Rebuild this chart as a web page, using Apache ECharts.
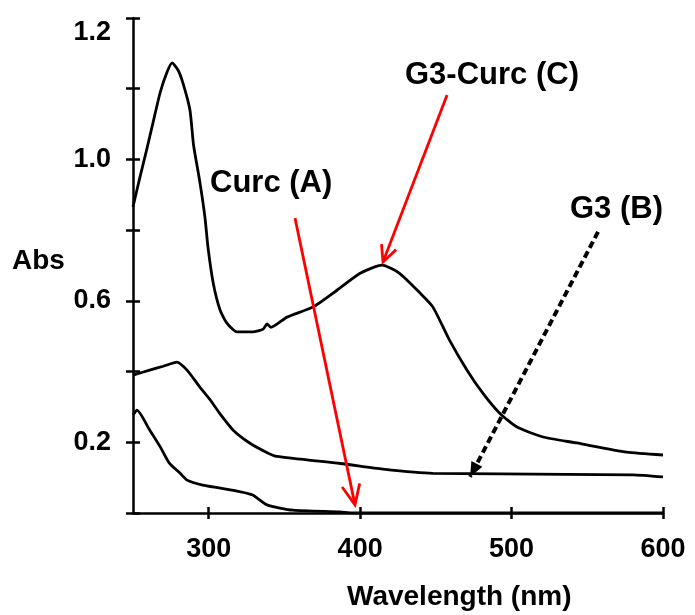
<!DOCTYPE html>
<html><head><meta charset="utf-8">
<script src="https://cdn.jsdelivr.net/npm/echarts@6/dist/echarts.min.js"></script>
<style>html,body{margin:0;padding:0;background:#fff}#c{width:695px;height:615px}</style>
</head><body><div id="c"></div>
<script>
// ---- data ----
const g3CurcWl  = [250, 254.6, 259, 263, 268, 272.5, 275.8, 279.7, 283, 287.6, 290, 294, 297.5, 299.5, 303, 307.5, 312, 318.7, 329, 336, 338.5, 341, 351.7, 369, 384.7, 400, 414.5, 426, 439.6, 448, 459, 470.6, 481, 492, 503.6, 520.8, 543, 576, 600];
const g3CurcAbs = [0.866, 0.95, 1.027, 1.10, 1.19, 1.247, 1.273, 1.253, 1.216, 1.14, 1.04, 0.94, 0.837, 0.752, 0.65, 0.574, 0.537, 0.512, 0.512, 0.52, 0.535, 0.525, 0.554, 0.583, 0.63, 0.678, 0.701, 0.678, 0.622, 0.583, 0.489, 0.404, 0.339, 0.283, 0.243, 0.215, 0.198, 0.172, 0.164];
const g3Wl  = [250, 261, 270, 279, 285.7, 294, 301, 307, 316, 327, 338, 345, 387, 415, 448, 580, 600];
const g3Abs = [0.39, 0.404, 0.415, 0.427, 0.404, 0.357, 0.32, 0.283, 0.235, 0.198, 0.172, 0.16, 0.14, 0.124, 0.112, 0.108, 0.102];
const curcWl  = [250, 252.6, 261, 268, 274, 281, 285.7, 296, 307, 318.7, 329, 338.5, 355.7, 386.7, 395, 600];
const curcAbs = [0.277, 0.291, 0.235, 0.187, 0.141, 0.113, 0.093, 0.079, 0.071, 0.062, 0.051, 0.023, 0.008, 0.003, 0, 0];

const xTickValues = [300, 400, 500, 600];
const xTickLabels = ['300', '400', '500', '600'];
const yTickValues = [0, 0.2, 0.4, 0.6, 0.8, 1.0, 1.2, 1.4];
const yLabelValues = [0.2, 0.6, 1.0, 1.4];
const yLabelTexts  = ['0.2', '0.6', '1.0', '1.2'];

const xName = 'Wavelength (nm)';
const yName = 'Abs';
const seriesNames = ['Curc (A)', 'G3 (B)', 'G3-Curc (C)'];

// annotation arrows in data coordinates: [start, tip]
const arrowCurc   = [[357, 0.834], [396.6, 0.023]];
const arrowG3Curc = [[457.4, 1.182], [415.1, 0.71]];
const arrowG3     = [[557.1, 0.795], [472.6, 0.102]];

const pairs = (xs, ys) => xs.map((x, i) => [x, ys[i]]);
const FONT = 'Liberation Sans, Arial, sans-serif';
const lab = {color: '#000', fontFamily: FONT, fontWeight: 'bold', fontSize: 27};

const chart = echarts.init(document.getElementById('c'), null, {renderer: 'canvas'});
const lineSeries = (name, xs, ys) => ({
  name, type: 'line', data: pairs(xs, ys), showSymbol: false, symbol: 'none',
  lineStyle: {color: '#000', width: 2.8}, smooth: 0.2, z: 3, animation: false,
  xAxisIndex: 0, yAxisIndex: 0
});

chart.setOption({
  animation: false,
  backgroundColor: '#fff',
  grid: {left: 133, right: 32, top: 18, bottom: 102, containLabel: false},
  xAxis: [{
    type: 'value', min: 250, max: 600, position: 'bottom',
    axisLine: {show: true, lineStyle: {color: '#000', width: 2.5}},
    axisTick: {show: true, inside: false, length: 6, lineStyle: {color: '#000', width: 2.5}, customValues: xTickValues},
    axisLabel: Object.assign({margin: 23, customValues: xTickValues,
      formatter: v => { const i = xTickValues.indexOf(v); return i >= 0 ? xTickLabels[i] : ''; }}, lab),
    splitLine: {show: false}
  }, {
    type: 'value', min: 250, max: 600, position: 'bottom', gridIndex: 0,
    axisLine: {show: false},
    axisTick: {show: true, inside: true, length: 6, lineStyle: {color: '#000', width: 2.5}, customValues: xTickValues},
    axisLabel: {show: false}, splitLine: {show: false}
  }],
  yAxis: [{
    type: 'value', min: 0, max: 1.4, position: 'left',
    axisLine: {show: true, lineStyle: {color: '#000', width: 2.5}},
    axisTick: {show: true, inside: false, length: 7, lineStyle: {color: '#000', width: 2.5}, customValues: yTickValues},
    axisLabel: Object.assign({margin: 22, customValues: yLabelValues,
      formatter: v => {
        const i = yLabelValues.findIndex(t => Math.abs(t - v) < 1e-6);
        if (i < 0) return '';
        return i === yLabelValues.length - 1 ? '{low|' + yLabelTexts[i] + '}' : yLabelTexts[i];
      },
      rich: {low: {color: '#000', fontFamily: FONT, fontWeight: 'bold', fontSize: 27, padding: [30, 0, 0, 0]}}
    }, lab),
    splitLine: {show: false}
  }, {
    type: 'value', min: 0, max: 1.4, position: 'left', gridIndex: 0,
    axisLine: {show: false},
    axisTick: {show: true, inside: true, length: 7, lineStyle: {color: '#000', width: 2.5}, customValues: yTickValues},
    axisLabel: {show: false}, splitLine: {show: false}
  }],
  series: [
    lineSeries(seriesNames[0], curcWl, curcAbs),
    lineSeries(seriesNames[1], g3Wl, g3Abs),
    lineSeries(seriesNames[2], g3CurcWl, g3CurcAbs)
  ]
});

function px(p) { return chart.convertToPixel({xAxisIndex: 0, yAxisIndex: 0}, p); }
function arrow(a, color, width, dash, headLen, headAng, filled) {
  const s = px(a[0]), t = px(a[1]);
  const th = Math.atan2(t[1] - s[1], t[0] - s[0]);
  const l = [t[0] - headLen * Math.cos(th - headAng), t[1] - headLen * Math.sin(th - headAng)];
  const r = [t[0] - headLen * Math.cos(th + headAng), t[1] - headLen * Math.sin(th + headAng)];
  const els = [{type: 'line', shape: {x1: s[0], y1: s[1], x2: t[0], y2: t[1]},
    style: {stroke: color, lineWidth: width, lineDash: dash || null}, z: 10}];
  if (filled) {
    els.push({type: 'polygon', shape: {points: [t, l, r]}, style: {fill: color}, z: 10});
  } else {
    els.push({type: 'polyline', shape: {points: [l, t, r]}, style: {stroke: color, lineWidth: width, fill: null}, z: 10});
  }
  return els;
}
function txt(text, x, y, size) {
  return {type: 'text', x, y, z: 11,
    style: {text, fill: '#000', font: 'bold ' + size + 'px ' + FONT, textAlign: 'left', textVerticalAlign: 'middle'}};
}

chart.setOption({
  graphic: [].concat(
    arrow(arrowCurc, '#ff0000', 2.8, null, 22, 0.42, false),
    arrow(arrowG3Curc, '#ff0000', 2.8, null, 18, 0.45, false),
    arrow(arrowG3, '#000', 4, [7, 4], 16, 0.4, true),
    [
      txt(yName, 12, 261, 28),
      txt(xName, 347, 597, 28),
      txt(seriesNames[0], 210, 183, 31),
      txt(seriesNames[2], 405, 75, 31),
      txt(seriesNames[1], 570, 209, 31)
    ]
  )
});
</script></body></html>
